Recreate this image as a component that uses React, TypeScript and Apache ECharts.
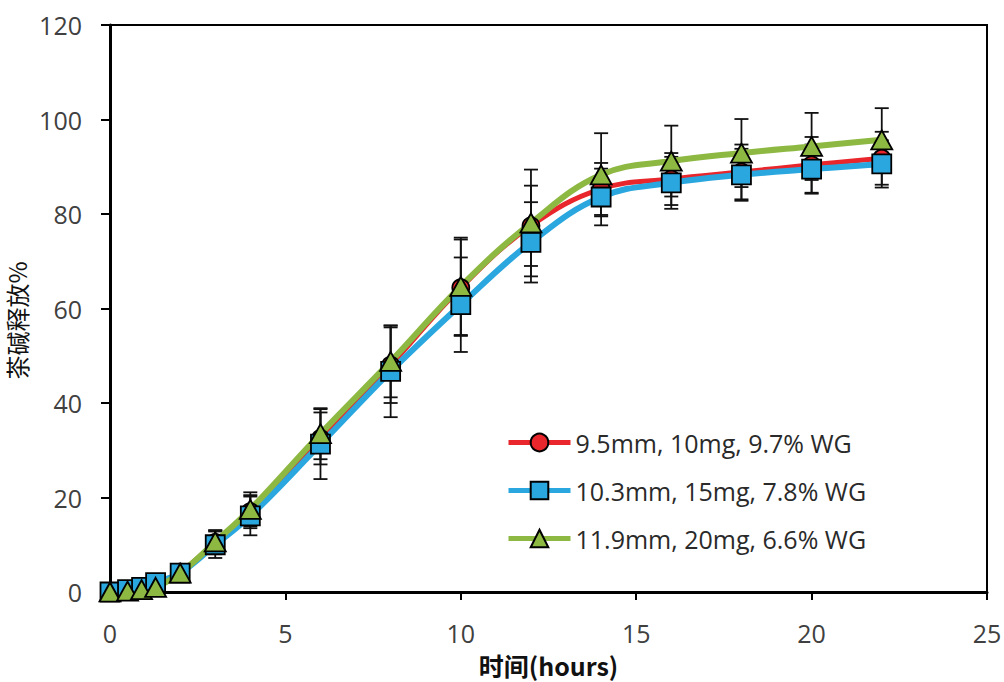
import React, { useEffect, useRef } from "react";
import * as echarts from "echarts";

const times = [0, 0.5, 0.9, 1.3, 2, 3, 4, 6, 8, 10, 12, 14, 16, 18, 20, 22];
const redName = "9.5mm, 10mg, 9.7% WG";
const blueName = "10.3mm, 15mg, 7.8% WG";
const greenName = "11.9mm, 20mg, 6.6% WG";
const redValues = [0, 0.3, 0.8, 1.8, 4.2, 10.5, 17.0, 32.5, 48.0, 64.4, 77.5, 85.3, 87.4, 88.9, 90.4, 91.8];
const blueValues = [0, 0.5, 1.0, 2.0, 4.0, 10.0, 16.1, 31.3, 46.7, 60.8, 74.0, 83.6, 86.6, 88.3, 89.5, 90.6];
const greenValues = [0, 0.2, 0.5, 1.0, 4.0, 10.6, 17.5, 33.5, 48.8, 64.7, 78.1, 88.3, 91.2, 92.9, 94.3, 95.7];
const redErrors = [0, 0.2, 0.3, 0.5, 1.0, 2.5, 3.5, 5.5, 8.0, 10.2, 8.5, 5.5, 5.5, 5.8, 5.9, 5.6];
const blueErrors = [0, 0.2, 0.3, 0.5, 1.0, 2.8, 4.1, 7.4, 9.7, 10.0, 8.5, 6.0, 5.5, 5.5, 5.2, 5.0];
const greenErrors = [0, 0.2, 0.3, 0.5, 1.2, 2.5, 3.6, 5.4, 7.6, 10.3, 11.3, 8.8, 7.5, 7.2, 7.1, 6.7];
const xTicks = { min: 0, max: 25, interval: 5 };
const yTicks = { min: 0, max: 120, interval: 20 };

const RED = "#E8262B";
const BLUE = "#2AA7DF";
const GREEN = "#8DB943";

function pairs(vals: number[]) {
  return times.map((t, i) => [t, vals[i]]);
}
function errData(vals: number[], errs: number[]) {
  return times.map((t, i) => [t, vals[i], errs[i]]);
}

function errorSeries(name: string, vals: number[], errs: number[]) {
  return {
    type: "custom",
    name,
    z: 1,
    data: errData(vals, errs),
    encode: { x: 0, y: 1 },
    renderItem: (params: any, api: any) => {
      const x = api.value(0);
      const y = api.value(1);
      const e = api.value(2);
      if (!e) return null;
      const top = api.coord([x, y + e]);
      const bot = api.coord([x, y - e]);
      const hw = 7;
      const st = { stroke: "#111", lineWidth: 1.8 };
      return {
        type: "group",
        children: [
          { type: "line", shape: { x1: top[0], y1: top[1], x2: bot[0], y2: bot[1] }, style: st },
          { type: "line", shape: { x1: top[0] - hw, y1: top[1], x2: top[0] + hw, y2: top[1] }, style: st },
          { type: "line", shape: { x1: bot[0] - hw, y1: bot[1], x2: bot[0] + hw, y2: bot[1] }, style: st },
        ],
      };
    },
  };
}

export default function App() {
  const ref = useRef<HTMLDivElement>(null);
  useEffect(() => {
    if (!ref.current) return;
    const chart = echarts.init(ref.current, null, { renderer: "svg" });
    const font = "'Open Sans', sans-serif";
    chart.setOption({
      animation: false,
      backgroundColor: "#fff",
      grid: {
        left: 110,
        right: 17,
        top: 25,
        bottom: 90,
        containLabel: false,
        outerBoundsMode: "none",
        show: true,
        borderColor: "#000",
        borderWidth: 2,
        backgroundColor: "transparent",
      },
      legend: {
        data: [redName, blueName, greenName],
        orient: "vertical",
        left: 501,
        top: 425,
        itemWidth: 62,
        itemHeight: 22,
        itemGap: 23,
        lineStyle: { width: 5 },
        textStyle: { fontSize: 25, color: "#2a2a2a", fontFamily: font },
      },
      xAxis: {
        type: "value",
        min: xTicks.min,
        max: xTicks.max,
        interval: xTicks.interval,
        splitLine: { show: false },
        axisLine: { lineStyle: { color: "#000", width: 3 } },
        axisTick: { length: 8, lineStyle: { color: "#000", width: 2 } },
        axisLabel: { fontSize: 25, color: "#404040", fontFamily: font, margin: 28 },
        name: "时间(hours)",
        nameLocation: "middle",
        nameGap: 60,
        nameTextStyle: { fontSize: 25, fontWeight: "bold", color: "#111", fontFamily: "'Noto Sans CJK SC', sans-serif" },
      },
      yAxis: {
        type: "value",
        min: yTicks.min,
        max: yTicks.max,
        interval: yTicks.interval,
        splitLine: { show: false },
        axisLine: { lineStyle: { color: "#000", width: 3 } },
        axisTick: { length: 9, lineStyle: { color: "#000", width: 2 } },
        axisLabel: { fontSize: 25, color: "#404040", fontFamily: font, margin: 28 },
        name: "茶碱释放%",
        nameLocation: "middle",
        nameGap: 72,
        nameRotate: 90,
        nameTextStyle: {
          fontSize: 24,
          color: "#111",
          fontFamily: "'Noto Sans CJK SC', serif",
          padding: [0, 24, 0, 0],
        },
      },
      series: [
        errorSeries("err-red", redValues, redErrors),
        errorSeries("err-blue", blueValues, blueErrors),
        errorSeries("err-green", greenValues, greenErrors),
        {
          type: "line",
          name: redName,
          z: 2,
          data: pairs(redValues),
          smooth: 0.4,
          symbol: "circle",
          symbolSize: 17,
          lineStyle: { color: RED, width: 5 },
          itemStyle: { color: RED, borderColor: "#000", borderWidth: 1.8 },
        },
        {
          type: "line",
          name: blueName,
          z: 2,
          data: pairs(blueValues),
          smooth: 0.4,
          symbol: "rect",
          symbolSize: 19,
          lineStyle: { color: BLUE, width: 6 },
          itemStyle: { color: BLUE, borderColor: "#000", borderWidth: 1.8 },
        },
        {
          type: "line",
          name: greenName,
          z: 2,
          data: pairs(greenValues),
          smooth: 0.4,
          symbol: "triangle",
          symbolSize: [21, 19],
          lineStyle: { color: GREEN, width: 6 },
          itemStyle: { color: GREEN, borderColor: "#000", borderWidth: 1.8 },
        },
      ],
    });
    return () => chart.dispose();
  }, []);
  return (
    <div
      ref={ref}
      style={{ position: "absolute", left: 0, top: 0, width: 1004, height: 682 }}
    />
  );
}
